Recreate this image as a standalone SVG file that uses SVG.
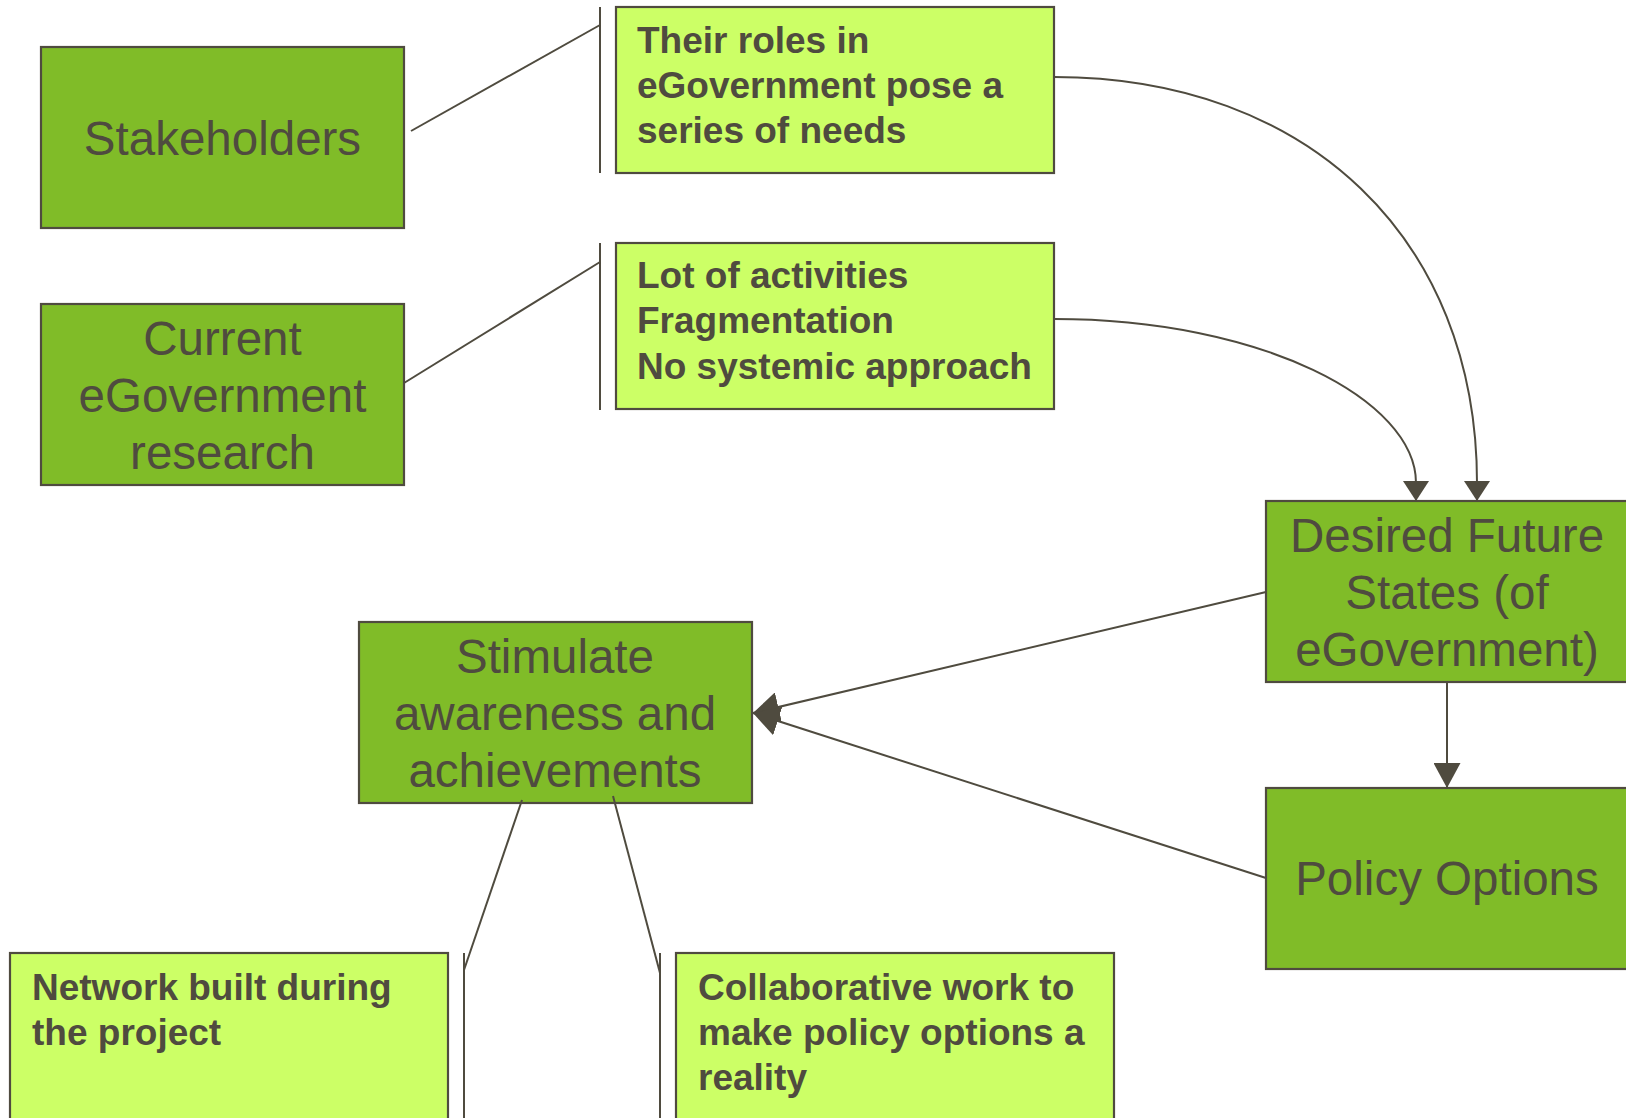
<svg xmlns="http://www.w3.org/2000/svg" width="1626" height="1118" viewBox="0 0 1626 1118">
<style>
.dark{fill:#80bc28;stroke:#4f4b3f;stroke-width:2.2}
.light{fill:#ccff66;stroke:#4f4b3f;stroke-width:2.2}
.big{font-family:"Liberation Sans",Arial,sans-serif;font-size:47.5px;fill:#4f4b3f;text-anchor:middle}
.bold{font-family:"Liberation Sans",Arial,sans-serif;font-size:37px;font-weight:bold;fill:#4f4b3f}
.ln{fill:none;stroke:#4f4b3f;stroke-width:2}
.arr{marker-end:url(#ah)}
.arr3{marker-end:url(#ah3)}
</style>
<defs>
<marker id="ah" viewBox="0 0 20 26" refX="20" refY="13" markerWidth="20" markerHeight="26" markerUnits="userSpaceOnUse" orient="auto">
<path d="M0,0 L20,13 L0,26 z" fill="#4f4b3f"/>
</marker>
<marker id="ah2" viewBox="0 0 25 27" refX="25" refY="13.5" markerWidth="25" markerHeight="27" markerUnits="userSpaceOnUse" orient="auto">
<path d="M0,0 L25,13.5 L0,27 z" fill="#4f4b3f"/>
</marker>
<marker id="ah3" viewBox="0 0 26 30" refX="26" refY="15" markerWidth="26" markerHeight="30" markerUnits="userSpaceOnUse" orient="auto">
<path d="M0,0 L26,15 L0,30 z" fill="#4f4b3f"/>
</marker>
</defs>
<rect width="1626" height="1118" fill="#ffffff"/>
<g id="stakeholders">
<rect class="dark" x="41" y="47" width="363" height="181"/>
<text class="big" x="222.5" y="155">Stakeholders</text>
</g>
<g id="current-research">
<rect class="dark" x="41" y="304" width="363" height="181"/>
<text class="big" x="222.5" y="355">Current</text>
<text class="big" x="222.5" y="412">eGovernment</text>
<text class="big" x="222.5" y="469">research</text>
</g>
<g id="their-roles">
<rect class="light" x="616" y="7" width="438" height="166"/>
<text class="bold" x="637" y="53">Their roles in</text>
<text class="bold" x="637" y="98">eGovernment pose a</text>
<text class="bold" x="637" y="143">series of needs</text>
</g>
<g id="lot-of-activities">
<rect class="light" x="616" y="243" width="438" height="166"/>
<text class="bold" x="637" y="288">Lot of activities</text>
<text class="bold" x="637" y="333">Fragmentation</text>
<text class="bold" x="637" y="379">No systemic approach</text>
</g>
<g id="desired-future-states">
<rect class="dark" x="1266" y="501" width="363" height="181"/>
<text class="big" x="1447" y="552">Desired Future</text>
<text class="big" x="1447" y="609">States (of</text>
<text class="big" x="1447" y="666">eGovernment)</text>
</g>
<g id="policy-options">
<rect class="dark" x="1266" y="788" width="363" height="181"/>
<text class="big" x="1447" y="895">Policy Options</text>
</g>
<g id="stimulate">
<rect class="dark" x="359" y="622" width="393" height="181"/>
<text class="big" x="555" y="673">Stimulate</text>
<text class="big" x="555" y="730">awareness and</text>
<text class="big" x="555" y="787">achievements</text>
</g>
<g id="network">
<rect class="light" x="10" y="953" width="438" height="181"/>
<text class="bold" x="32" y="1000">Network built during</text>
<text class="bold" x="32" y="1045">the project</text>
</g>
<g id="collaborative">
<rect class="light" x="676" y="953" width="438" height="181"/>
<text class="bold" x="698" y="1000">Collaborative work to</text>
<text class="bold" x="698" y="1045">make policy options a</text>
<text class="bold" x="698" y="1090">reality</text>
</g>
<g id="connectors">
<line class="ln" x1="600" y1="7" x2="600" y2="173"/>
<line class="ln" x1="411" y1="131" x2="600" y2="25"/>
<line class="ln" x1="600" y1="243" x2="600" y2="410"/>
<line class="ln" x1="404" y1="383" x2="600" y2="262"/>
<path class="ln arr" d="M1054,77 C1308,77 1477,239 1477,483 L1477,501"/>
<path class="ln arr" d="M1054,319 C1262,319 1416,400 1416,483 L1416,501"/>
<line class="ln arr3" x1="1266" y1="592" x2="753" y2="713"/>
<line class="ln arr3" x1="1266" y1="878" x2="753" y2="713"/>
<line class="ln" x1="1447" y1="682" x2="1447" y2="788" marker-end="url(#ah2)"/>
<line class="ln" x1="522" y1="800" x2="464" y2="970"/>
<line class="ln" x1="464" y1="953" x2="464" y2="1118"/>
<line class="ln" x1="613" y1="796" x2="660" y2="973"/>
<line class="ln" x1="660" y1="953" x2="660" y2="1118"/>
</g>
</svg>
